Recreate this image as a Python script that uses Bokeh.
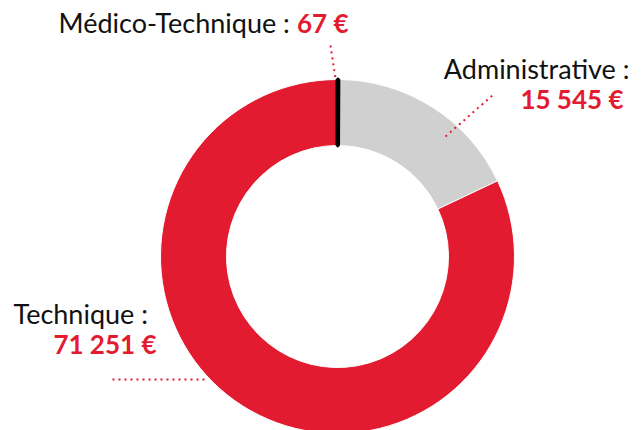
import math
from bokeh.plotting import figure
from bokeh.models import Range1d, ColumnDataSource
from bokeh.core.properties import value
from bokeh.embed import file_html
from bokeh.resources import INLINE

categories = ["Médico-Technique", "Administrative", "Technique"]
amounts = [67, 15545, 71251]
amount_labels = ["67 €", "15 545 €", "71 251 €"]
colors = ["#000000", "#D0D0D0", "#E31B30"]

RED = "#E31B30"
FONT = "Lato"
W, H = 641, 430
PAGE_H = 430

def Y(y):
    # convert top-down page pixel coordinates into data coordinates
    return PAGE_H - y

p = figure(width=W, height=H, output_backend="svg", toolbar_location=None,
           x_range=Range1d(0, W), y_range=Range1d(0, H),
           min_border=0, outline_line_color=None)
p.axis.visible = False
p.grid.visible = False
p.background_fill_color = "white"
p.border_fill_color = "white"

total = float(sum(amounts))
starts, ends = [], []
cum = 0.0
for a in amounts:
    starts.append(math.pi / 2 - cum / total * 2 * math.pi)
    cum += a
    ends.append(math.pi / 2 - cum / total * 2 * math.pi)

cx, cy = 337, Y(256)
src_main = ColumnDataSource(dict(start=starts[1:], end=ends[1:], color=colors[1:]))
p.annular_wedge(x=cx, y=cy, inner_radius=111, outer_radius=177,
                start_angle="start", end_angle="end", direction="clock",
                fill_color="color", line_color="white", line_width=1, source=src_main)
src_small = ColumnDataSource(dict(start=starts[:1], end=ends[:1], color=colors[:1]))
p.annular_wedge(x=cx, y=cy, inner_radius=111, outer_radius=177,
                start_angle="start", end_angle="end", direction="clock",
                fill_color="color", line_color="color", line_width=4, source=src_small)

leaders = [([330, 335], [45, 78]), ([445, 493], [136, 94]), ([112, 205], [379, 379])]
for xs, ys in leaders:
    p.line(xs, [Y(v) for v in ys], line_color=RED, line_width=2, line_dash="2 4")

fs = "27px"
fb = "26px"
p.text(x=[58], y=[Y(22)], text=[categories[0] + " :"], text_font=value(FONT),
       text_font_size=fs, text_color="#111111", text_baseline="alphabetic", text_align="left")
p.text(x=[348], y=[Y(22)], text=[amount_labels[0]], text_font=value(FONT),
       text_font_size=fb, text_font_style="bold", text_color=RED,
       text_baseline="alphabetic", text_align="right")
p.text(x=[629], y=[Y(68)], text=[categories[1] + " :"], text_font=value(FONT),
       text_font_size=fs, text_color="#111111", text_baseline="alphabetic", text_align="right")
p.text(x=[623], y=[Y(98)], text=[amount_labels[1]], text_font=value(FONT),
       text_font_size=fb, text_font_style="bold", text_color=RED,
       text_baseline="alphabetic", text_align="right")
p.text(x=[13], y=[Y(313)], text=[categories[2] + " :"], text_font=value(FONT),
       text_font_size=fs, text_color="#111111", text_baseline="alphabetic", text_align="left")
p.text(x=[156], y=[Y(343)], text=[amount_labels[2]], text_font=value(FONT),
       text_font_size=fb, text_font_style="bold", text_color=RED,
       text_baseline="alphabetic", text_align="right")

open("out.html", "w").write(file_html(p, INLINE))
